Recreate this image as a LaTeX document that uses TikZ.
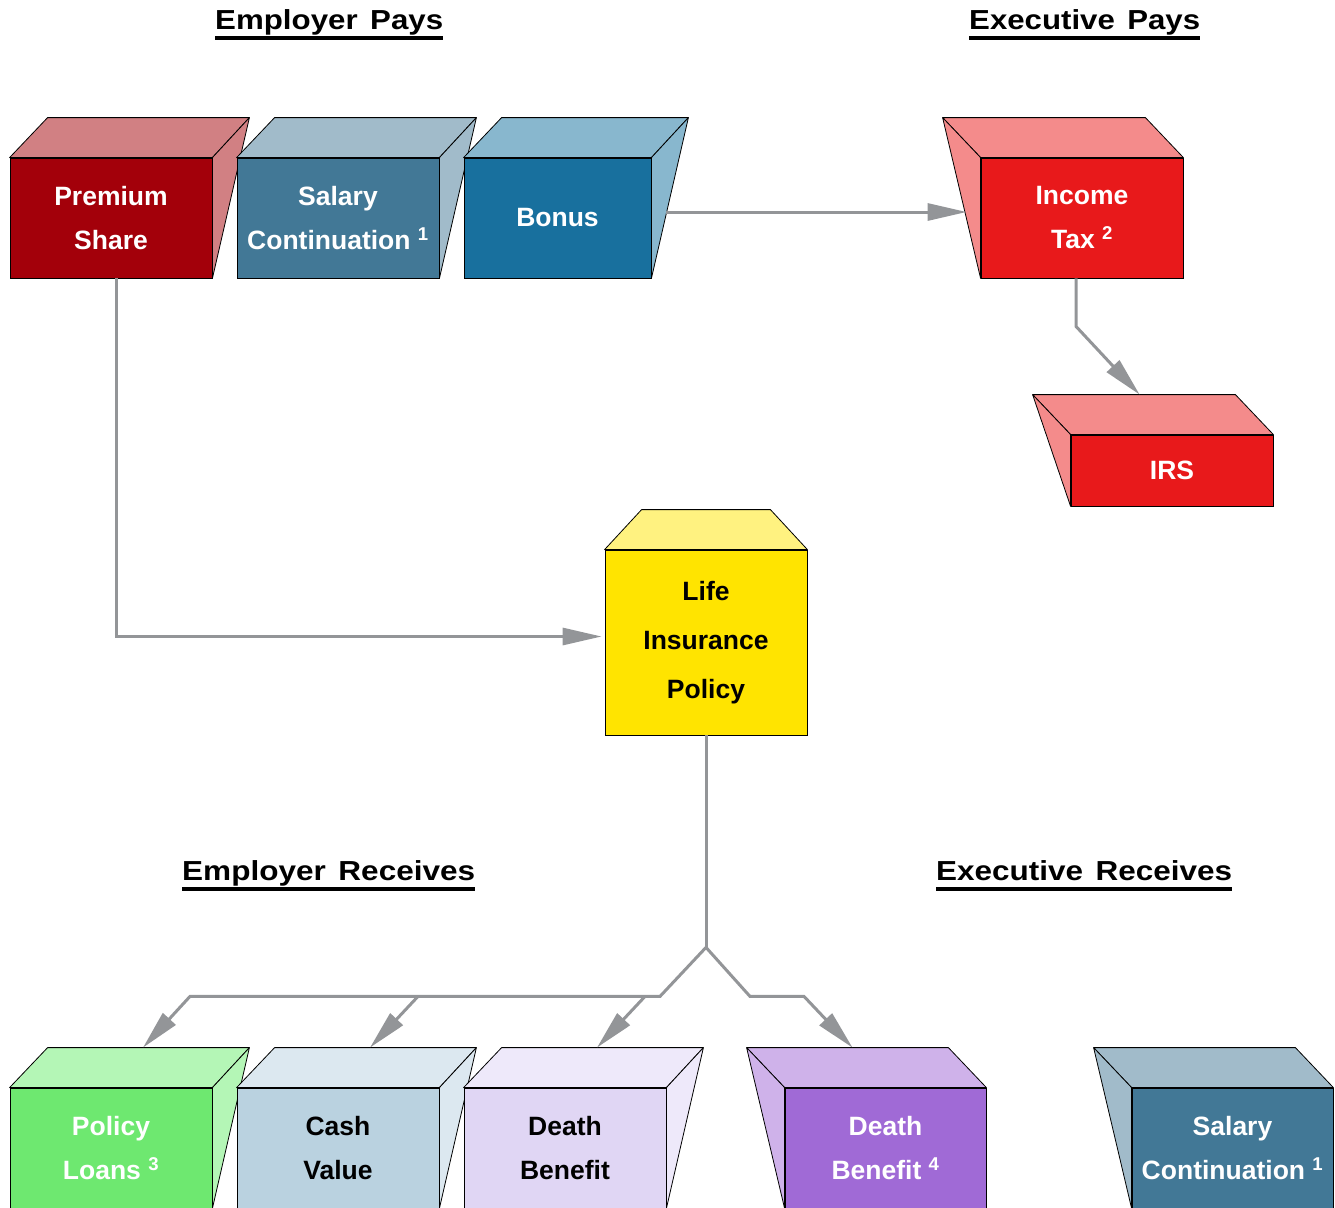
\documentclass[tikz,border=0pt]{standalone}
\usepackage{fontspec}
\setmainfont{Liberation Sans}
\usetikzlibrary{arrows.meta,calc}
\definecolor{premD}{RGB}{163,0,10}
\definecolor{premL}{RGB}{209,128,131}
\definecolor{salD}{RGB}{66,120,150}
\definecolor{salL}{RGB}{161,187,202}
\definecolor{bonD}{RGB}{24,112,158}
\definecolor{bonL}{RGB}{136,183,206}
\definecolor{taxD}{RGB}{232,25,27}
\definecolor{taxL}{RGB}{244,139,139}
\definecolor{lifeD}{RGB}{255,228,0}
\definecolor{lifeL}{RGB}{255,242,128}
\definecolor{loanD}{RGB}{110,232,112}
\definecolor{loanL}{RGB}{180,246,182}
\definecolor{cashD}{RGB}{186,210,224}
\definecolor{cashL}{RGB}{220,232,240}
\definecolor{deathD}{RGB}{224,214,244}
\definecolor{deathL}{RGB}{238,233,250}
\definecolor{dfourD}{RGB}{160,106,214}
\definecolor{dfourL}{RGB}{207,178,234}
\definecolor{arrowgray}{RGB}{147,149,152}
\newcommand{\lblfont}{\fontsize{26.5}{44}\selectfont\bfseries}
\newcommand{\lifefont}{\fontsize{26.5}{49}\selectfont\bfseries}
\newcommand{\hdfont}{\fontsize{27.5}{32}\selectfont\bfseries}
\tikzset{
  front/.style={draw=black,line width=0.8pt,rectangle,inner sep=0pt,
    minimum width=202pt,minimum height=120pt,align=center,font=\lblfont},
  face/.style={draw=black,line width=0.8pt,line join=round},
  conn/.style={draw=arrowgray,line width=3pt,-{Triangle[length=39pt,width=17pt]}},
  plainconn/.style={draw=arrowgray,line width=3pt},
  heading/.style={inner sep=0pt,anchor=base west,font=\hdfont},
  uline/.style={line width=4pt}
}
% right-facing cube: top and right side
\newcommand{\cubeR}[2]{%
  \filldraw[face,fill=#2] (#1.north west) -- ($(#1.north west)+(38,-40)$) -- ($(#1.north east)+(37,-40)$) -- (#1.north east) -- cycle;
  \filldraw[face,fill=#2] (#1.north east) -- ($(#1.north east)+(37,-40)$) -- (#1.south east) -- cycle;
}
% left-facing cube: top and left side
\newcommand{\cubeL}[2]{%
  \filldraw[face,fill=#2] (#1.north east) -- ($(#1.north east)+(-38,-40)$) -- ($(#1.north west)+(-38,-40)$) -- (#1.north west) -- cycle;
  \filldraw[face,fill=#2] (#1.north west) -- ($(#1.north west)+(-38,-40)$) -- (#1.south west) -- cycle;
}
\begin{document}
\begin{tikzpicture}[x=1pt,y=-1pt]
\useasboundingbox (0,0) rectangle (1335,1207);

% headings
\node[heading] (h1) at (215,30) {\resizebox{228pt}{\height}{Employer\hspace{0.4em}Pays}};
\node[heading] (h2) at (969,30) {\resizebox{231pt}{\height}{Executive\hspace{0.4em}Pays}};
\node[heading] (h3) at (182,880) {\resizebox{293pt}{\height}{Employer\hspace{0.4em}Receives}};
\node[heading] (h4) at (936,880) {\resizebox{296pt}{\height}{Executive\hspace{0.4em}Receives}};
\foreach \h in {h1,h2,h3,h4}{
  \draw[uline] ($(\h.base west)+(0,8.5)$) -- ($(\h.base east)+(0,8.5)$);
}

% top row
\node[front,fill=premD,text=white] (prem) at (111,218) {Premium\\Share};
\cubeR{prem}{premL}
\node[front,fill=salD,text=white] (sal) at (338,218) {Salary\\Continuation \textsuperscript{1}};
\cubeR{sal}{salL}
\node[front,fill=bonD,text=white,minimum width=187pt] (bonus) at (557.5,218) {Bonus};
\cubeR{bonus}{bonL}
\node[front,fill=taxD,text=white] (tax) at (1082,218) {Income\\Tax \textsuperscript{2}};
\cubeL{tax}{taxL}
\node[front,fill=taxD,text=white,minimum height=71pt] (irs) at (1172,470.5) {IRS};
\cubeL{irs}{taxL}

% life insurance
\node[front,fill=lifeD,text=black,minimum height=185pt,font=\lifefont] (life) at (706,642.5) {Life\\Insurance\\Policy};
\filldraw[face,fill=lifeL] (life.north west) -- ($(life.north west)+(37,-40)$) -- ($(life.north east)+(-37,-40)$) -- (life.north east) -- cycle;

% bottom row
\node[front,fill=loanD,text=white] (loans) at (111,1148) {Policy\\Loans \textsuperscript{3}};
\cubeR{loans}{loanL}
\node[front,fill=cashD,text=black] (cash) at (338,1148) {Cash\\Value};
\cubeR{cash}{cashL}
\node[front,fill=deathD,text=black] (dben) at (565,1148) {Death\\Benefit};
\cubeR{dben}{deathL}
\node[front,fill=dfourD,text=white,minimum width=201pt] (dben4) at (885.5,1148) {Death\\Benefit \textsuperscript{4}};
\cubeL{dben4}{dfourL}
\node[front,fill=salD,text=white,minimum width=201pt] (sal2) at (1232.5,1148) {Salary\\Continuation \textsuperscript{1}};
\cubeL{sal2}{salL}

% connectors
\draw[conn] ($(bonus.east)+(15,-6)$) -- ($(tax.west)+(-14,-6)$);
\draw[conn] ($(tax.south)+(-6,0)$) -- ++(0,48) -- ($(irs.north west)+(69,-40)$);
\draw[conn] ($(prem.south)+(5,0)$) |- ($(life.west)+(-3,-6)$);
\coordinate (fork) at ($(life.south)+(0,212)$);
\draw[plainconn] (life.south) -- (fork);
\draw[conn] (fork) -- ++(-46,49) -- ++(-470,0) -- ($(loans.north)+(32,-40)$);
\draw[conn] ($(fork)+(-288,49)$) -- ($(cash.north)+(32,-40)$);
\draw[conn] ($(fork)+(-61,49)$) -- ($(dben.north)+(32,-40)$);
\draw[conn] (fork) -- ++(44,49) -- ++(54,0) -- ($(dben4.north)+(-33,-40)$);
\end{tikzpicture}
\end{document}
